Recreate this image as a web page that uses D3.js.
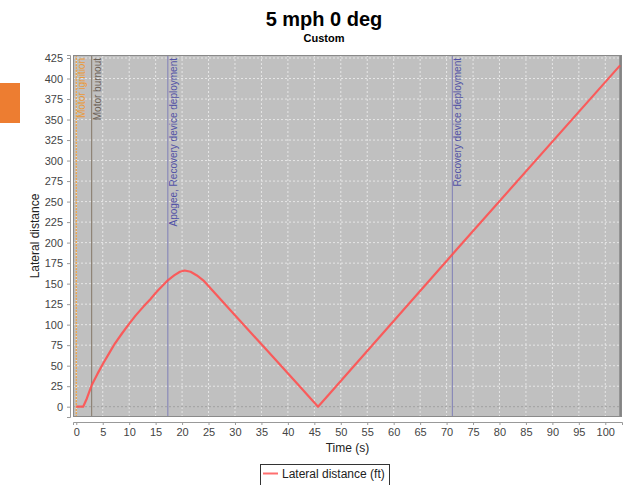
<!DOCTYPE html>
<html>
<head>
<meta charset="utf-8">
<script src="https://cdn.jsdelivr.net/npm/d3@7"></script>
<style>
  html, body { margin: 0; padding: 0; background: #fff; }
  svg { display: block; font-family: "Liberation Sans", Arial, sans-serif; }
</style>
</head>
<body>
<svg id="chart" width="628" height="485"></svg>
<script>
// Flight simulation: lateral distance over time
const titleText = "5 mph 0 deg";
const subtitleText = "Custom";
const xLabel = "Time (s)";
const yLabel = "Lateral distance";
const seriesName = "Lateral distance (ft)";

const timeS = [0, 1.3, 2.0, 2.9, 4.0, 5.1, 6.2, 7.3, 8.5, 9.8, 11.2, 12.7, 14.0, 15.2, 16.3, 17.3,
  18.5, 19.6, 20.5, 21.6, 22.8, 24.0, 29.7, 36.0, 42.3, 45.7, 48.0, 71.9, 102.8];
const lateralFt = [0, 0, 10, 26, 40, 53, 65, 77, 88, 99.5, 111, 122, 131, 140, 147.5, 154,
  160, 164.5, 166, 164.5, 160, 154, 113.5, 69, 24.4, 0, 16.8, 191.5, 416];

const xTicks = d3.range(0, 101, 5);
const yTicks = d3.range(0, 426, 25);

// flight events drawn as vertical markers; the last one only shows its line
const eventNames = ["Motor ignition", "Motor burnout", "Apogee, Recovery device deployment",
  "Recovery device deployment", ""];
const eventTimes = [0, 2.9, 17.3, 71.1, 102.8];
const eventLineColors = ["#f0a040", "#8e8376", "#8a8ab8", "#8a8ab8", "#6a6a6a"];
const eventTextColors = ["#eb9a3a", "#6b6156", "#5252a6", "#5252a6", "#555"];

const svg = d3.select("#chart");
const plot = { left: 73, right: 622, top: 55, bottom: 417 };

const x = d3.scaleLinear().domain([-0.62, 103.16]).range([plot.left, plot.right]);
const y = d3.scaleLinear().domain([-12.55, 428.66]).range([plot.bottom, plot.top]);

// side tab
svg.append("rect").attr("x", 0).attr("y", 83).attr("width", 20).attr("height", 40).attr("fill", "#ed7d31");

// titles
svg.append("text").attr("x", 324).attr("y", 26).attr("text-anchor", "middle")
  .attr("font-size", 20).attr("font-weight", "bold").attr("fill", "#000").text(titleText);
svg.append("text").attr("x", 324).attr("y", 42).attr("text-anchor", "middle")
  .attr("font-size", 11).attr("font-weight", "bold").attr("fill", "#000").text(subtitleText);

// plot background
svg.append("defs").append("clipPath").attr("id", "plotClip")
  .append("rect").attr("x", plot.left).attr("y", plot.top)
  .attr("width", plot.right - plot.left).attr("height", plot.bottom - plot.top);

svg.append("rect").attr("x", plot.left).attr("y", plot.top)
  .attr("width", plot.right - plot.left).attr("height", plot.bottom - plot.top)
  .attr("fill", "#c0c0c0");

const inner = svg.append("g").attr("clip-path", "url(#plotClip)");

// grid
inner.selectAll(".vg").data(xTicks).join("line")
  .attr("x1", d => x(d)).attr("x2", d => x(d))
  .attr("y1", plot.top).attr("y2", plot.bottom)
  .attr("stroke", "#e6e6e6").attr("stroke-width", 1).attr("stroke-dasharray", "2,2");
inner.selectAll(".hg").data(yTicks.filter(d => d !== 0)).join("line")
  .attr("x1", plot.left).attr("x2", plot.right)
  .attr("y1", d => y(d)).attr("y2", d => y(d))
  .attr("stroke", "#e6e6e6").attr("stroke-width", 1).attr("stroke-dasharray", "2,2");
inner.append("line")
  .attr("x1", plot.left).attr("x2", plot.right)
  .attr("y1", y(0)).attr("y2", y(0))
  .attr("stroke", "#a0a0a0").attr("stroke-width", 1).attr("stroke-dasharray", "2,2");

// event markers
const events = eventNames.map((n, i) => ({ name: n, t: eventTimes[i], lc: eventLineColors[i], tc: eventTextColors[i] }));
inner.selectAll(".ev").data(events).join("line")
  .attr("x1", d => x(d.t)).attr("x2", d => x(d.t))
  .attr("y1", plot.top).attr("y2", plot.bottom)
  .attr("stroke", d => d.lc).attr("stroke-width", 1.2)
  .attr("stroke-dasharray", d => d.t === 0 ? "2,1" : null);
inner.selectAll(".evl").data(events.filter(d => d.name)).join("text")
  .attr("transform", d => `translate(${x(d.t) + 9},${plot.top + 3}) rotate(-90)`)
  .attr("text-anchor", "end")
  .attr("font-size", 10).attr("fill", d => d.tc)
  .text(d => d.name);

// series
const pts = timeS.map((t, i) => [t, lateralFt[i]]);
const line = d3.line().x(d => x(d[0])).y(d => y(d[1]));
inner.append("path").datum(pts).attr("d", line)
  .attr("fill", "none").attr("stroke", "#ff5050").attr("stroke-width", 2.2)
  .attr("stroke-linejoin", "round").attr("stroke-opacity", 0.9);

// plot border
svg.append("rect").attr("x", plot.left + 0.5).attr("y", plot.top + 0.5)
  .attr("width", plot.right - plot.left - 1).attr("height", plot.bottom - plot.top - 1)
  .attr("fill", "none").attr("stroke", "#8a8a8a").attr("stroke-width", 1);

// axes
const yAxis = d3.axisLeft(y).tickValues(yTicks).tickSize(3).tickPadding(4);
const gy = svg.append("g").attr("transform", `translate(70,0)`).call(yAxis);
const xAxis = d3.axisBottom(x).tickValues(xTicks).tickSize(3).tickPadding(3);
const gx = svg.append("g").attr("transform", `translate(0,422)`).call(xAxis);
[gy, gx].forEach(g => {
  g.select(".domain").attr("stroke", "#999");
  g.selectAll(".tick line").attr("stroke", "#999");
  g.selectAll(".tick text").attr("font-size", 11).attr("fill", "#444")
    .attr("font-family", "'Liberation Sans', Arial, sans-serif");
});

// axis labels
svg.append("text").attr("x", (plot.left + plot.right) / 2).attr("y", 452)
  .attr("text-anchor", "middle").attr("font-size", 12).attr("fill", "#222").text(xLabel);
svg.append("text").attr("transform", `translate(39,${(plot.top + plot.bottom) / 2}) rotate(-90)`)
  .attr("text-anchor", "middle").attr("font-size", 12).attr("fill", "#222").text(yLabel);

// legend
const lg = svg.append("g");
lg.append("rect").attr("x", 260.5).attr("y", 464.5).attr("width", 129).attr("height", 30)
  .attr("fill", "#fff").attr("stroke", "#333").attr("stroke-width", 1);
lg.append("line").attr("x1", 263).attr("x2", 278).attr("y1", 473.5).attr("y2", 473.5)
  .attr("stroke", "#ff6f6f").attr("stroke-width", 2);
lg.append("text").attr("x", 282).attr("y", 478).attr("font-size", 12).attr("fill", "#222").text(seriesName);
</script>
</body>
</html>
